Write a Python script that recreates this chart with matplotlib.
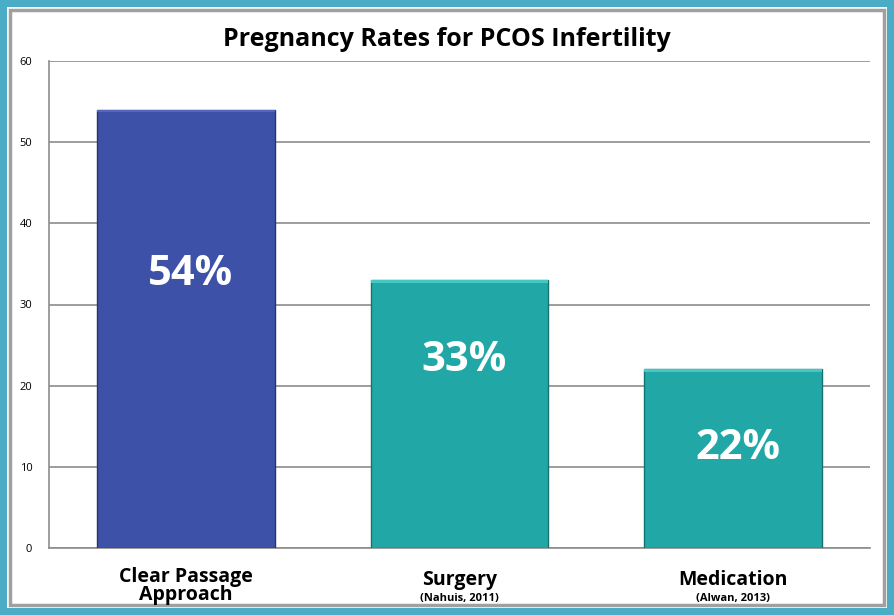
import matplotlib
matplotlib.use("Agg")
import matplotlib.pyplot as plt
from matplotlib.patches import Rectangle

categories = ["Clear Passage\nApproach", "Surgery", "Medication"]
sources = ["", "(Nahuis, 2011)", "(Alwan, 2013)"]
rates = [54, 33, 22]
labels = ["54%", "33%", "22%"]
yticks = [0, 10, 20, 30, 40, 50, 60]

W, H = 894, 615
fig = plt.figure(figsize=(W / 100, H / 100), dpi=100)
fig.patch.set_facecolor("white")

# outer teal frame + inner grey frame (drawn beneath the axes)
fig.patches.append(Rectangle((0, 0), 1, 1, transform=fig.transFigure,
                             facecolor="#4BACC6", edgecolor="none", zorder=-3))
fig.patches.append(Rectangle((7 / W, 7 / H), 1 - 14 / W, 1 - 14 / H,
                             transform=fig.transFigure, facecolor="white",
                             edgecolor="none", zorder=-2))
fig.patches.append(Rectangle((10 / W, 10 / H), 1 - 20 / W, 1 - 20 / H,
                             transform=fig.transFigure, facecolor="white",
                             edgecolor="#A0A0A0", linewidth=2.5, zorder=-1))

left, right, top, bottom = 49, 870, 61, 548
ax = fig.add_axes([left / W, 1 - bottom / H, (right - left) / W, (bottom - top) / H])
ax.set_facecolor("none")

colors = ["#3D51A8", "#21A8A6", "#21A8A6"]
edges = ["#27336E", "#147270", "#147270"]
x = list(range(len(rates)))
bars = ax.bar(x, rates, width=0.65, color=colors, edgecolor=edges,
              linewidth=1.0, zorder=3)

# thin light bevel on top of each bar
tops = ["#5566C0", "#45C8C5", "#45C8C5"]
for b, c in zip(bars, tops):
    ax.add_patch(Rectangle((b.get_x(), b.get_height() - 0.3), b.get_width(), 0.3,
                           facecolor=c, edgecolor="none", zorder=4))

label_offsets = [20.3, 9.9, 9.7]
for xi, v, lab, off in zip(x, rates, labels, label_offsets):
    ax.text(xi + 0.018, v - off, lab, ha="center", va="center", color="white",
            fontsize=30, fontweight="bold", family="Open Sans", zorder=5)

ax.set_xlim(-0.5, 2.5)
ax.set_ylim(0, 60)
ax.set_yticks(yticks)
ax.set_yticklabels([str(t) for t in yticks], fontsize=8, family="Open Sans")
ax.yaxis.grid(True, color="#8C8C8C", linewidth=1.2, zorder=0)
ax.set_axisbelow(True)
ax.tick_params(axis="y", length=0, pad=12)
ax.tick_params(axis="x", length=0)
ax.set_xticks([])
for s in ["top", "right"]:
    ax.spines[s].set_visible(False)
ax.spines["left"].set_color("#8C8C8C")
ax.spines["bottom"].set_color("#8C8C8C")
ax.spines["left"].set_linewidth(1.2)
ax.spines["bottom"].set_linewidth(1.2)

for xi, cat, src in zip(x, categories, sources):
    if "\n" in cat:
        ax.text(xi, -2.4, cat, ha="center", va="top", fontsize=14,
                fontweight="bold", family="Open Sans", linespacing=0.85,
                clip_on=False)
    else:
        ax.text(xi, -3.9, cat, ha="center", va="center", fontsize=14,
                fontweight="bold", family="Open Sans", clip_on=False)
        ax.text(xi, -6.2, src, ha="center", va="center", fontsize=8,
                fontweight="bold", family="Open Sans", clip_on=False)

fig.text(0.5, 1 - 40 / H, "Pregnancy Rates for PCOS Infertility", ha="center",
         va="center", fontsize=18, fontweight="bold", family="Open Sans")

fig.savefig("out.png", dpi=100)
plt.close(fig)
